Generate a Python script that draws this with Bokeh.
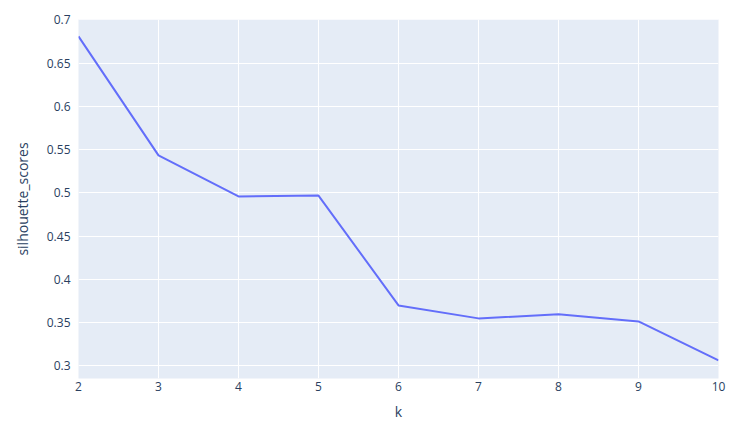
from bokeh.plotting import figure
from bokeh.models import FixedTicker, ColumnDataSource
from bokeh.embed import file_html
from bokeh.resources import INLINE

k_values = [2, 3, 4, 5, 6, 7, 8, 9, 10]
silhouette_scores = [0.681, 0.5434, 0.496, 0.497, 0.370, 0.355, 0.3597, 0.3515, 0.3064]

x_ticks = [2, 3, 4, 5, 6, 7, 8, 9, 10]
x_tick_labels = ["2", "3", "4", "5", "6", "7", "8", "9", "10"]
y_ticks = [0.3, 0.35, 0.4, 0.45, 0.5, 0.55, 0.6, 0.65, 0.7]
y_tick_labels = ["0.3", "0.35", "0.4", "0.45", "0.5", "0.55", "0.6", "0.65", "0.7"]

FONT = "Open Sans"
TXT = "#2a3f5f"

src = ColumnDataSource(dict(k=k_values, s=silhouette_scores))

p = figure(
    output_backend="svg", toolbar_location=None,
    frame_width=640, frame_height=359,
    x_range=(2, 10), y_range=(0.2855, 0.7005),
    min_border_left=78, min_border_top=19, min_border_right=20, min_border_bottom=40,
    background_fill_color="#E5ECF6", border_fill_color="white",
)
p.outline_line_color = None

p.line("k", "s", source=src, line_color="#636EFA", line_width=2)

p.xaxis.ticker = FixedTicker(ticks=x_ticks)
p.yaxis.ticker = FixedTicker(ticks=y_ticks)
p.xaxis.major_label_overrides = {t: l for t, l in zip(x_ticks, x_tick_labels)}
p.yaxis.major_label_overrides = {t: l for t, l in zip(y_ticks, y_tick_labels)}

for ax in (p.xaxis, p.yaxis):
    ax.axis_line_color = None
    ax.major_tick_line_color = None
    ax.minor_tick_line_color = None
    ax.major_label_text_font = FONT
    ax.major_label_text_font_size = "12px"
    ax.major_label_text_color = TXT
    ax.axis_label_text_font = FONT
    ax.axis_label_text_font_size = "14px"
    ax.axis_label_text_color = TXT
    ax.axis_label_text_font_style = "normal"

p.xaxis.axis_label = "k"
p.yaxis.axis_label = "silhouette_scores"
p.xaxis.major_label_standoff = -3
p.yaxis.major_label_standoff = 2
p.xaxis.axis_label_standoff = 8
p.yaxis.axis_label_standoff = 12

p.xgrid.grid_line_color = "white"
p.ygrid.grid_line_color = "white"
p.xgrid.grid_line_width = 1
p.ygrid.grid_line_width = 1

open("out.html", "w").write(file_html(p, INLINE))
